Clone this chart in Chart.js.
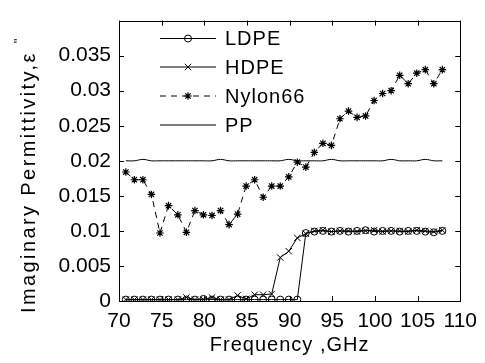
<!DOCTYPE html>
<html><head><meta charset="utf-8">
<script src="https://cdn.jsdelivr.net/npm/chart.js@4/dist/chart.umd.min.js"></script>
<style>html,body{margin:0;padding:0;background:#fff}#wrap{width:485px;height:363px}</style>
</head><body><div id="wrap"><canvas id="c" width="485" height="363"></canvas></div>
<script>
const freq = [70.8,71.8,72.8,73.8,74.8,75.8,76.9,77.9,78.9,79.9,80.9,81.9,82.9,83.9,84.9,85.9,86.9,87.9,88.9,89.9,90.9,91.9,92.9,93.9,94.9,95.9,96.9,97.9,98.9,99.9,100.9,101.9,102.9,103.9,104.9,105.9,106.9,107.9];
const ldpe = [0.0002,0.0002,0.0002,0.0002,0.0002,0.0002,0.0002,0.0002,0.0002,0.0003,0.0002,0.0002,0.0002,0.0002,0.0002,0.0002,0.0002,0.0002,0.0002,0.0002,0.0002,0.0097,0.0099,0.0100,0.0099,0.0100,0.0099,0.0100,0.0101,0.0099,0.0100,0.0100,0.0099,0.0100,0.0100,0.0099,0.0098,0.0100];
const hdpe = [0.0002,0.0002,0.0002,0.0002,0.0002,0.0002,0.0002,0.0005,0.0002,0.0002,0.0005,0.0002,0.0002,0.0008,0.0003,0.0009,0.0009,0.0010,0.0062,0.0071,0.0090,0.0096,0.0100,0.0101,0.0099,0.0100,0.0100,0.0099,0.0100,0.0101,0.0099,0.0100,0.0100,0.0099,0.0101,0.0100,0.0099,0.0101];
const nylon66 = [0.0184,0.0173,0.0173,0.0152,0.0097,0.0136,0.0123,0.0098,0.0129,0.0123,0.0122,0.0129,0.0109,0.0124,0.0164,0.0173,0.0148,0.0164,0.0164,0.0177,0.0198,0.0191,0.0212,0.0225,0.0222,0.0260,0.0271,0.0262,0.0264,0.0286,0.0296,0.0300,0.0322,0.0310,0.0325,0.0330,0.0310,0.0330];
const pp = [0.0200,0.0200,0.0202,0.0200,0.0200,0.0200,0.0200,0.0200,0.0200,0.0200,0.0200,0.0202,0.0200,0.0200,0.0200,0.0200,0.0200,0.0200,0.0200,0.0202,0.0200,0.0200,0.0200,0.0200,0.0202,0.0200,0.0200,0.0200,0.0200,0.0200,0.0200,0.0202,0.0200,0.0200,0.0200,0.0202,0.0200,0.0200];
const seriesNames = ['LDPE','HDPE','Nylon66','PP'];
const xTicks = [70,75,80,85,90,95,100,105,110];
const yTicks = [0,0.005,0.01,0.015,0.02,0.025,0.03,0.035];
const xTitle = 'Frequency ,GHz';
const yTitle = 'Imaginary Permittivity,\u03B5';
const yTitleSup = '"';

const FONT = "'Liberation Sans', Arial, Helvetica, sans-serif";
const pts = arr => freq.map((f,i)=>({x:f,y:arr[i]}));

const datasets = [
  {label:seriesNames[0], data:pts(ldpe), borderColor:'#000', backgroundColor:'rgba(0,0,0,0)', borderWidth:1, pointStyle:'circle', pointRadius:3.5, pointBorderWidth:1, pointBorderColor:'#000', pointBackgroundColor:'rgba(0,0,0,0)', tension:0},
  {label:seriesNames[1], data:pts(hdpe), borderColor:'#000', backgroundColor:'rgba(0,0,0,0)', borderWidth:1, pointStyle:'crossRot', pointRadius:4.5, pointBorderWidth:1, pointBorderColor:'#000', tension:0},
  {label:seriesNames[2], data:pts(nylon66), borderColor:'#000', backgroundColor:'rgba(0,0,0,0)', borderWidth:1, borderDash:[6,5], pointStyle:'star', pointRadius:3.8, pointBorderWidth:1.2, pointBorderColor:'#000', tension:0},
  {label:seriesNames[3], data:pts(pp), borderColor:'#000', backgroundColor:'rgba(0,0,0,0)', borderWidth:1, pointRadius:0, tension:0.4}
];

const frame = {
  id:'frame',
  beforeDraw(chart){ chart.ctx.letterSpacing = '0px'; },
  afterDraw(chart){
    const {ctx, chartArea:a, scales} = chart;
    ctx.save();
    ctx.strokeStyle = '#000'; ctx.lineWidth = 1; ctx.setLineDash([]);
    ctx.strokeRect(Math.round(a.left)+0.5, Math.round(a.top)+0.5, Math.round(a.right-a.left), Math.round(a.bottom-a.top));
    const L = 5;
    ctx.beginPath();
    xTicks.forEach(v=>{ const x = Math.round(scales.x.getPixelForValue(v))+0.5;
      ctx.moveTo(x,a.bottom); ctx.lineTo(x,a.bottom-L); ctx.moveTo(x,a.top); ctx.lineTo(x,a.top+L); });
    yTicks.forEach(v=>{ const y = Math.round(scales.y.getPixelForValue(v))+0.5;
      ctx.moveTo(a.left,y); ctx.lineTo(a.left+L,y); ctx.moveTo(a.right,y); ctx.lineTo(a.right-L,y); });
    ctx.stroke();

    // legend
    ctx.letterSpacing = '1px';
    ctx.font = '20px ' + FONT; ctx.fillStyle = '#000'; ctx.textBaseline = 'middle'; ctx.textAlign = 'left';
    const rows = [38.5, 67, 96, 125];
    chart.data.datasets.forEach((ds,i)=>{
      const y = rows[i];
      ctx.save();
      ctx.strokeStyle = '#000'; ctx.lineWidth = 1; ctx.setLineDash(ds.borderDash||[]);
      ctx.beginPath(); ctx.moveTo(160,y); ctx.lineTo(216,y); ctx.stroke();
      ctx.setLineDash([]);
      if (ds.pointRadius>0) {
        ctx.strokeStyle='#000'; ctx.fillStyle='rgba(0,0,0,0)'; ctx.lineWidth = ds.pointBorderWidth;
        Chart.helpers.drawPoint(ctx,{pointStyle:ds.pointStyle, radius:ds.pointRadius, rotation:0, borderWidth:ds.pointBorderWidth}, 188, y);
      }
      ctx.restore();
      ctx.fillText(ds.label, 225, y+1);
    });

    // axis titles
    ctx.textBaseline = 'alphabetic';
    ctx.textAlign = 'center';
    ctx.fillText(xTitle, (a.left+a.right)/2, 351);
    ctx.save();
    ctx.translate(35, 313);
    ctx.rotate(-Math.PI/2);
    ctx.textAlign = 'left';
    ctx.letterSpacing = '2.4px';
    ctx.fillText(yTitle, 0, 0);
    const w = ctx.measureText(yTitle).width;
    ctx.letterSpacing = '0px';
    ctx.font = '13px ' + FONT;
    ctx.fillText(yTitleSup, w+8, -12);
    ctx.restore();
    ctx.restore();
  }
};

new Chart(document.getElementById('c'), {
  type:'line',
  data:{datasets},
  options:{
    responsive:false, animation:false, devicePixelRatio:1,
    layout:{padding:{top:11,right:23,left:0,bottom:0}},
    plugins:{legend:{display:false}, tooltip:{enabled:false}},
    scales:{
      x:{type:'linear', min:70, max:110,
        afterFit(s){ s.height = 62; },
        afterBuildTicks(s){ s.ticks = xTicks.map(v=>({value:v})); },
        grid:{display:false, drawTicks:false}, border:{display:false},
        ticks:{color:'#000', font:{family:FONT, size:21}, padding:8, maxRotation:0, autoSkip:false, callback:v=>String(v)}},
      y:{type:'linear', min:0, max:0.04,
        afterFit(s){ s.width = 119; },
        afterBuildTicks(s){ s.ticks = yTicks.map(v=>({value:v})); },
        grid:{display:false, drawTicks:false}, border:{display:false},
        ticks:{color:'#000', font:{family:FONT, size:21}, padding:8, autoSkip:false, callback:v=>String(+v.toFixed(3))}}
    }
  },
  plugins:[frame]
});
</script></body></html>
